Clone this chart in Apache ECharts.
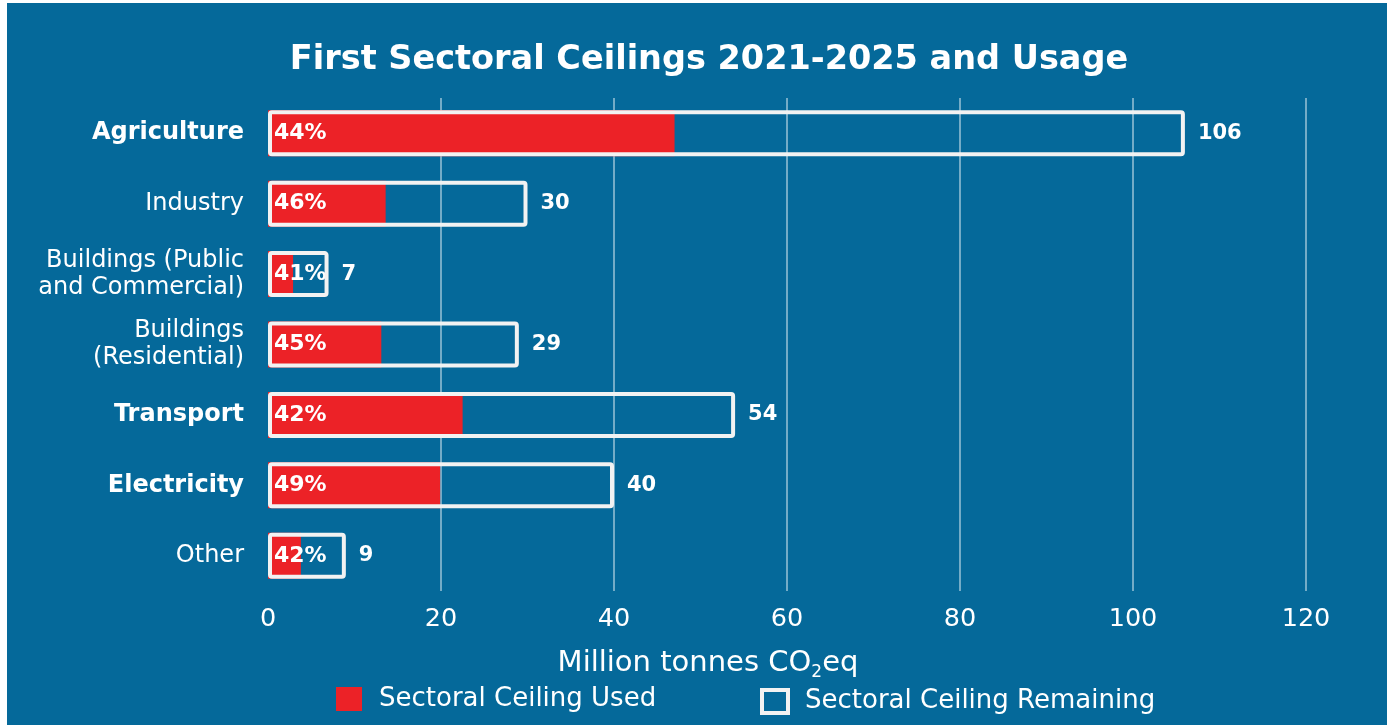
<!DOCTYPE html>
<html>
<head>
<meta charset="utf-8">
<script src="https://cdn.jsdelivr.net/npm/echarts@6/dist/echarts.min.js"></script>
<style>
  html, body { margin: 0; padding: 0; background: #ffffff; }
  #chart { width: 1387px; height: 725px; }
</style>
</head>
<body>
<div id="chart"></div>
<script>
// sectors, top to bottom
const categories = ['Agriculture', 'Industry', 'Buildings (Public\nand Commercial)', 'Buildings\n(Residential)', 'Transport', 'Electricity', 'Other']
const boldSectors = ['Agriculture', 'Transport', 'Electricity']
// sectoral ceiling 2021-2025 (Mt CO2eq)
const ceiling = [106, 30, 7, 29, 54, 40, 9]
// part of the ceiling already used (Mt CO2eq)
const used = [47.0, 13.6, 2.9, 13.1, 22.5, 19.9, 3.8]
// share used, as printed on the bars
const usedPct = [44, 46, 41, 45, 42, 49, 42]
const xTicks = [0, 20, 40, 60, 80, 100, 120]

const BG = '#05699a'
const RED = '#ec2227'
const EDGE = '#f2f2f2'
const FONT = 'DejaVu Sans'

const chart = echarts.init(document.getElementById('chart'))

const option = {
  backgroundColor: BG,
  textStyle: { fontFamily: FONT },
  graphic: [
    // white margin on the left and top of the original picture
    { type: 'rect', left: 0, top: 0, shape: { width: 7, height: 725 }, style: { fill: '#ffffff' } },
    { type: 'rect', left: 0, top: 0, shape: { width: 1387, height: 3 }, style: { fill: '#ffffff' } }
  ],
  title: [
    {
      text: 'First Sectoral Ceilings 2021-2025 and Usage',
      left: 704,
      top: 38,
      textAlign: 'center',
      textStyle: { color: '#ffffff', fontSize: 33.5, fontWeight: 'bold', fontFamily: FONT }
    },
    {
      // axis title, with subscript 2
      text: '{t|Million tonnes CO}{s|2}{t|eq}',
      left: 703,
      top: 640,
      textAlign: 'center',
      textStyle: {
        fontWeight: 'normal',
        rich: {
          t: { color: '#ffffff', fontSize: 29, fontWeight: 'normal', fontFamily: FONT },
          s: { color: '#ffffff', fontSize: 17, fontWeight: 'normal', fontFamily: FONT, padding: [19, 0, 0, 0] }
        }
      }
    }
  ],
  legend: [
    {
      data: [{ name: 'Sectoral Ceiling Used', itemStyle: { color: RED } }],
      left: 331,
      top: 681,
      icon: 'rect',
      itemWidth: 26,
      itemHeight: 24,
      selectedMode: false,
      textStyle: { color: '#ffffff', fontSize: 26, fontFamily: FONT, padding: [0, 0, 0, 12] }
    },
    {
      data: [{ name: 'Sectoral Ceiling Remaining', itemStyle: { color: 'transparent', borderColor: EDGE, borderWidth: 4 } }],
      left: 755,
      top: 683,
      icon: 'rect',
      itemWidth: 26,
      itemHeight: 23,
      selectedMode: false,
      textStyle: { color: '#ffffff', fontSize: 26, fontFamily: FONT, padding: [0, 0, 0, 12] }
    }
  ],
  grid: {
    left: 268,
    right: 81,
    top: 98,
    bottom: 134,
    containLabel: false
  },
  xAxis: {
    type: 'value',
    min: 0,
    max: 120,
    interval: 20,
    axisLine: { show: false },
    axisTick: { show: false },
    axisLabel: {
      color: '#ffffff',
      fontSize: 25.5,
      margin: 15,
      fontFamily: FONT,
      formatter: v => (xTicks.indexOf(v) >= 0 ? String(v) : '')
    },
    splitLine: {
      show: true,
      showMinLine: false,
      lineStyle: { color: 'rgba(255,255,255,0.6)', width: 1.5 }
    }
  },
  yAxis: {
    type: 'category',
    data: categories,
    inverse: true,
    axisLine: { show: false },
    axisTick: { show: false },
    axisLabel: {
      color: '#ffffff',
      fontSize: 24,
      lineHeight: 27,
      margin: 24,
      fontFamily: FONT,
      formatter: v => (boldSectors.indexOf(v) >= 0 ? '{b|' + v + '}' : v),
      rich: {
        b: { color: '#ffffff', fontSize: 24, fontWeight: 'bold', fontFamily: FONT }
      }
    }
  },
  series: [
    {
      name: 'Sectoral Ceiling Used',
      type: 'bar',
      data: used,
      barWidth: 46,
      z: 2,
      itemStyle: { color: RED },
      label: {
        show: true,
        position: 'insideLeft',
        distance: 6,
        color: '#ffffff',
        fontSize: 22,
        fontWeight: 'bold',
        fontFamily: FONT,
        formatter: p => usedPct[p.dataIndex] + '%'
      },
      silent: true
    },
    {
      name: 'Sectoral Ceiling Remaining',
      type: 'bar',
      data: ceiling,
      barWidth: 46,
      barGap: '-100%',
      z: 3,
      itemStyle: { color: 'transparent', borderColor: EDGE, borderWidth: 4, borderRadius: 2 },
      label: {
        show: true,
        position: 'right',
        distance: 13,
        color: '#ffffff',
        fontSize: 21,
        fontWeight: 'bold',
        fontFamily: FONT
      },
      silent: true
    }
  ]
}

chart.setOption(option)
window.addEventListener('resize', () => chart.resize())
</script>
</body>
</html>
